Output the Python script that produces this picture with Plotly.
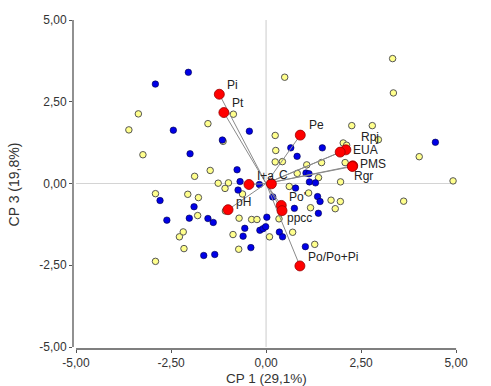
import plotly.graph_objects as go

# ---- data ----
blue_x = [-2.045, -2.913, -2.44, -0.44, -1.15, -2.0, -0.763, -0.684, -0.737, -0.176,
          -2.79, -1.895, -2.61, -2.02, -1.53, -1.39, -1.64, -1.35, -0.40, -0.605,
          -0.56, -0.163, -0.08, -0.01, 0.02, 0.65, 1.48, 0.816, 4.455, 1.05,
          1.13, 1.14, 1.30, 0.776, 1.355, 0.176, 1.42, 0.745, 1.376, 0.35,
          0.434, 1.034]
blue_y = [3.40, 3.04, 1.63, 1.60, 1.33, 0.91, 0.42, 0.06, -0.20, -0.03,
          -0.52, -0.71, -1.12, -1.06, -1.07, -1.19, -2.20, -2.17, -1.96, -1.61,
          -1.37, -1.43, -1.38, -1.32, -1.03, 1.09, 1.09, 0.83, 1.26, 0.32,
          0.30, 0.05, 0.02, -0.14, -0.40, -0.41, -0.55, -0.76, -0.91, -1.485,
          -1.63, -1.93]

yellow_x = [-3.36, -3.61, -1.53, -0.86, -1.13, -3.24, -1.88, -1.47, -1.26, -0.99,
            -1.08, -0.62, -2.91, -2.06, -1.78, -1.80, -2.18, -2.28, -2.16, -2.91,
            -0.87, -0.72, -0.71, -0.38, -0.24, -1.07, 0.09, 0.49, 3.33, 3.35,
            2.255, 2.795, 2.955, 4.03, 4.92, 0.24, 0.255, 2.03, 2.12, 0.24,
            0.43, 1.07, 1.46, 2.08, 0.82, 1.38, 1.96, 0.61, 1.12, 1.71,
            1.955, 1.82, 1.17, 0.34, 0.70, 1.28, 3.62]
yellow_y = [2.13, 1.64, 1.83, 2.12, 1.29, 0.88, 0.22, 0.40, 0.01, 0.02,
            -0.15, -0.32, -0.31, -0.33, -0.43, -0.98, -1.48, -1.63, -1.99, -2.38,
            -1.56, -2.01, -1.06, -1.10, -1.10, -0.84, -1.63, 3.25, 3.82, 2.77,
            1.77, 1.77, 1.34, 0.82, 0.08, 1.47, 1.01, 1.24, 1.17, 0.66,
            0.67, 0.57, 0.64, 0.64, 0.31, 0.18, 0.05, -0.09, -0.29, -0.51,
            -0.55, -0.77, -0.74, -1.08, -1.49, -1.86, -0.54]

var_names = ["Pi", "Pt", "Pe", "Rpj", "EUA", "PMS", "Rgr", "I+a", "C",
             "pH", "Po'", "ppcc", "Po/Po+Pi"]
var_x = [-1.23, -1.11, 0.90, 2.10, 1.95, 2.28, 2.27, -0.45, 0.14,
         -1.00, 0.40, 0.42, 0.89]
var_y = [2.73, 2.17, 1.48, 1.03, 0.96, 0.54, 0.52, -0.03, -0.01,
         -0.80, -0.67, -0.83, -2.52]

tick_vals = [-5, -2.5, 0, 2.5, 5]
tick_text = ["-5,00", "-2,50", "0,00", "2,50", "5,00"]
x_title = "CP 1 (29,1%)"
y_title = "CP 3 (19,8%)"

# label pixel offsets (style)
label_shift = {"Pi": (6, 9), "Pt": (6, 10), "Pe": (7, 10), "Rpj": (13, 13),
               "EUA": (11, 2), "PMS": (5, 2), "Rgr": (0, -9), "I+a": (6, 9),
               "C": (6, 9), "pH": (6, 8), "Po'": (6, 8), "ppcc": (3, -7),
               "Po/Po+Pi": (6, 9)}

FONT = "Liberation Sans, Arial"

fig = go.Figure()

# reference lines
fig.add_trace(go.Scatter(x=[0, 0, None, -5, 5], y=[-5, 5, None, 0, 0], mode="lines",
                         line=dict(color="#d4d4d4", width=1.2), hoverinfo="skip",
                         showlegend=False))

fig.add_trace(go.Scatter(x=yellow_x, y=yellow_y, mode="markers",
                         marker=dict(size=6.5, color="#ffff8c",
                                     line=dict(color="#555555", width=1)),
                         showlegend=False))
fig.add_trace(go.Scatter(x=blue_x, y=blue_y, mode="markers",
                         marker=dict(size=6.5, color="#0000e6",
                                     line=dict(color="#000044", width=0.6)),
                         showlegend=False))

# vector lines from origin
lx, ly = [], []
for vx, vy in zip(var_x, var_y):
    lx += [0, vx, None]
    ly += [0, vy, None]
fig.add_trace(go.Scatter(x=lx, y=ly, mode="lines",
                         line=dict(color="#8a8a8a", width=1), hoverinfo="skip",
                         showlegend=False))

fig.add_trace(go.Scatter(x=var_x, y=var_y, mode="markers",
                         marker=dict(size=10, color="#ff0000",
                                     line=dict(color="#990000", width=0.8)),
                         showlegend=False))

for name, vx, vy in zip(var_names, var_x, var_y):
    dx, dy = label_shift[name]
    fig.add_annotation(x=vx, y=vy, text=name, showarrow=False, xanchor="left",
                       yanchor="middle", xshift=dx, yshift=dy,
                       font=dict(family=FONT, size=12, color="#222222"))

# x-axis title as annotation
fig.add_annotation(x=0, y=0, xref="x", yref="paper", text=x_title, showarrow=False,
                   xanchor="center", yanchor="middle", yshift=-29,
                   font=dict(family=FONT, size=13.5, color="#333333"))

# detached axis lines
fig.add_shape(type="line", xref="x domain", yref="y", x0=0, x1=0, y0=-5, y1=5,
              line=dict(color="#555555", width=1.3))
fig.add_shape(type="line", xref="x", yref="y domain", x0=-5, x1=5, y0=0, y1=0,
              line=dict(color="#555555", width=1.3))

axis_common = dict(tickvals=tick_vals, ticktext=tick_text, ticks="outside",
                   ticklen=3, tickcolor="#555555", tickwidth=1.2,
                   showgrid=False, zeroline=False, showline=False, automargin=False,
                   tickfont=dict(family=FONT, size=12, color="#333333"))

fig.update_xaxes(range=[-5.08, 5.05], **axis_common)
fig.update_yaxes(range=[-5.06, 5.0], title=dict(text=y_title, standoff=16,
                 font=dict(family=FONT, size=14, color="#333333")),
                 **axis_common)

fig.update_layout(width=491, height=386, margin=dict(l=73, r=33, t=20, b=37),
                  plot_bgcolor="white", paper_bgcolor="white")

fig.write_html("out.html", config={"displayModeBar": False},
               post_script="document.body.style.margin='0px';document.body.style.overflow='hidden';")
